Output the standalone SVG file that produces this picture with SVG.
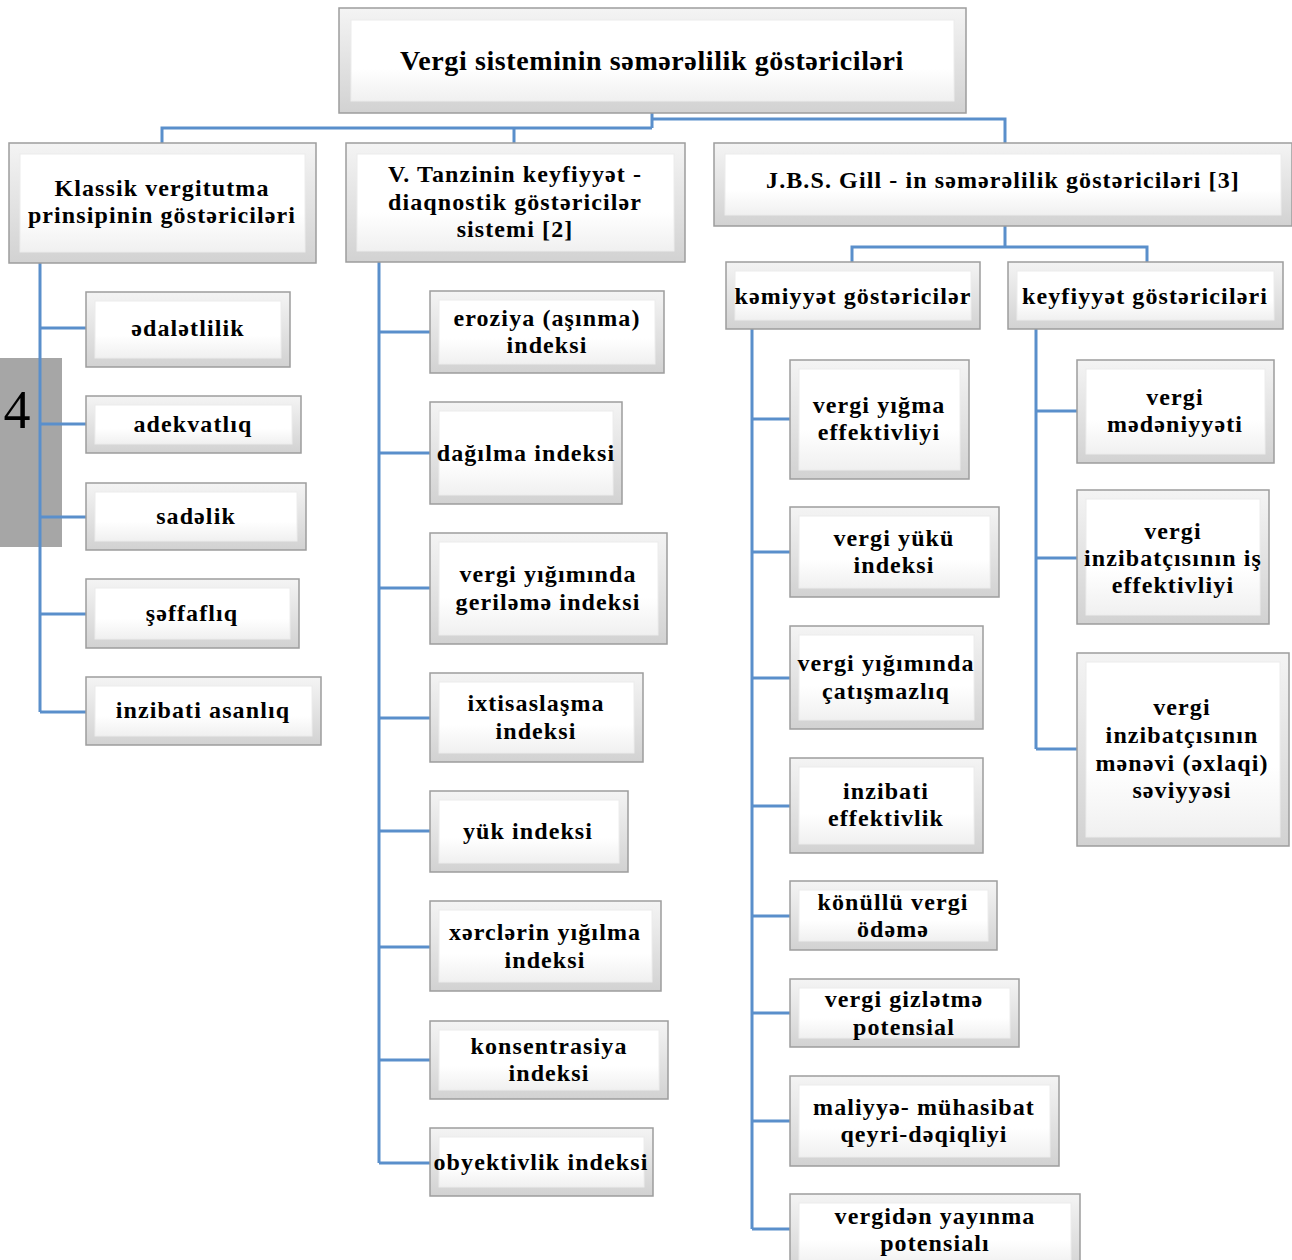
<svg xmlns="http://www.w3.org/2000/svg" width="1292" height="1260" viewBox="0 0 1292 1260">
<defs>
<linearGradient id="bev" x1="0" y1="0" x2="0" y2="1">
<stop offset="0" stop-color="#f4f4f4"/>
<stop offset="1" stop-color="#d2d2d2"/>
</linearGradient>
<linearGradient id="face" x1="0" y1="0" x2="0" y2="1">
<stop offset="0" stop-color="#ffffff"/>
<stop offset="0.6" stop-color="#ffffff"/>
<stop offset="1" stop-color="#f0f0f0"/>
</linearGradient>
</defs>
<style>
.frame{fill:url(#bev);stroke:#9d9d9d;stroke-width:1.5}
.face{fill:url(#face);stroke:#ececec;stroke-width:1}
.t{font-family:"Liberation Serif","Times New Roman",serif;font-weight:bold;font-size:24px;letter-spacing:1.1px;fill:#000;text-anchor:middle}
.big{font-size:28px;letter-spacing:0.6px}
.conn{fill:none;stroke:#5a8fcb;stroke-width:3}
</style>
<rect x="0" y="358" width="62" height="189" fill="#a6a6a6"/>
<text x="17" y="428" font-family="Liberation Serif, serif" font-size="54" text-anchor="middle" fill="#000">4</text>
<g id="connectors">
<path class="conn" d="M652,113 V128 M162,143 V128 H652 M514,128 V143 M652,119 H1005 V143"/>
<path class="conn" d="M40,263 V712 M40,328 H86 M40,424 H86 M40,517 H86 M40,614 H86 M40,712 H86"/>
<path class="conn" d="M379,262 V1163 M379,332 H430 M379,453 H430 M379,588 H430 M379,718 H430 M379,831 H430 M379,947 H430 M379,1060 H430 M379,1163 H430"/>
<path class="conn" d="M1005,226 V247 M852,262 V247 H1147 V262"/>
<path class="conn" d="M752,329 V1229 M752,419 H790 M752,552 H790 M752,678 H790 M752,806 H790 M752,916 H790 M752,1013 H790 M752,1121 H790 M752,1229 H790"/>
<path class="conn" d="M1036,329 V749 M1036,411 H1077 M1036,558 H1077 M1036,749 H1077"/>
</g>
<g id="root"><rect class="frame" x="339" y="8" width="627" height="105"/><rect class="face" x="351" y="20" width="603" height="81"/><text class="t big" x="652" y="70">Vergi sisteminin səmərəlilik göstəriciləri</text></g>
<g id="klassik"><rect class="frame" x="9" y="143" width="307" height="120"/><rect class="face" x="20" y="154" width="285" height="98"/><text class="t" x="162" y="196">Klassik vergitutma</text><text class="t" x="162" y="223">prinsipinin göstəriciləri</text></g>
<g id="tanzin"><rect class="frame" x="346" y="143" width="339" height="119"/><rect class="face" x="357" y="154" width="317" height="97"/><text class="t" x="515" y="182">V. Tanzinin keyfiyyət -</text><text class="t" x="515" y="210">diaqnostik göstəricilər</text><text class="t" x="515" y="237">sistemi [2]</text></g>
<g id="gill"><rect class="frame" x="714" y="143" width="578" height="83"/><rect class="face" x="725" y="154" width="556" height="61"/><text class="t" x="1003" y="188">J.B.S. Gill - in səmərəlilik göstəriciləri [3]</text></g>
<g id="edalet"><rect class="frame" x="86" y="292" width="204" height="75"/><rect class="face" x="95" y="301" width="186" height="57"/><text class="t" x="188" y="336">ədalətlilik</text></g>
<g id="adekvat"><rect class="frame" x="86" y="396" width="215" height="57"/><rect class="face" x="95" y="405" width="197" height="39"/><text class="t" x="193" y="432">adekvatlıq</text></g>
<g id="sadelik"><rect class="frame" x="86" y="483" width="220" height="67"/><rect class="face" x="95" y="492" width="202" height="49"/><text class="t" x="196" y="524">sadəlik</text></g>
<g id="seffaf"><rect class="frame" x="86" y="579" width="213" height="69"/><rect class="face" x="95" y="588" width="195" height="51"/><text class="t" x="192" y="621">şəffaflıq</text></g>
<g id="asanliq"><rect class="frame" x="86" y="677" width="235" height="68"/><rect class="face" x="95" y="686" width="217" height="50"/><text class="t" x="203" y="718">inzibati asanlıq</text></g>
<g id="eroziya"><rect class="frame" x="430" y="291" width="234" height="82"/><rect class="face" x="439" y="300" width="216" height="64"/><text class="t" x="547" y="326">eroziya (aşınma)</text><text class="t" x="547" y="353">indeksi</text></g>
<g id="dagilma"><rect class="frame" x="430" y="402" width="192" height="102"/><rect class="face" x="439" y="411" width="174" height="84"/><text class="t" x="526" y="461">dağılma indeksi</text></g>
<g id="gerileme"><rect class="frame" x="430" y="533" width="237" height="111"/><rect class="face" x="439" y="542" width="219" height="93"/><text class="t" x="548" y="582">vergi yığımında</text><text class="t" x="548" y="610">geriləmə indeksi</text></g>
<g id="ixtisas"><rect class="frame" x="430" y="673" width="213" height="89"/><rect class="face" x="439" y="682" width="195" height="71"/><text class="t" x="536" y="711">ixtisaslaşma</text><text class="t" x="536" y="739">indeksi</text></g>
<g id="yuk"><rect class="frame" x="430" y="791" width="198" height="81"/><rect class="face" x="439" y="800" width="180" height="63"/><text class="t" x="528" y="839">yük indeksi</text></g>
<g id="xercler"><rect class="frame" x="430" y="901" width="231" height="90"/><rect class="face" x="439" y="910" width="213" height="72"/><text class="t" x="545" y="940">xərclərin yığılma</text><text class="t" x="545" y="968">indeksi</text></g>
<g id="konsentr"><rect class="frame" x="430" y="1021" width="238" height="78"/><rect class="face" x="439" y="1030" width="220" height="60"/><text class="t" x="549" y="1054">konsentrasiya</text><text class="t" x="549" y="1081">indeksi</text></g>
<g id="obyekt"><rect class="frame" x="430" y="1128" width="223" height="68"/><rect class="face" x="439" y="1137" width="205" height="50"/><text class="t" x="541" y="1170">obyektivlik indeksi</text></g>
<g id="kemiyyet"><rect class="frame" x="726" y="262" width="254" height="67"/><rect class="face" x="735" y="271" width="236" height="49"/><text class="t" x="853" y="304">kəmiyyət göstəricilər</text></g>
<g id="keyfiyyet"><rect class="frame" x="1008" y="262" width="275" height="67"/><rect class="face" x="1017" y="271" width="257" height="49"/><text class="t" x="1145" y="304">keyfiyyət göstəriciləri</text></g>
<g id="yigma"><rect class="frame" x="790" y="360" width="179" height="119"/><rect class="face" x="799" y="369" width="161" height="101"/><text class="t" x="879" y="413">vergi yığma</text><text class="t" x="879" y="440">effektivliyi</text></g>
<g id="yuku"><rect class="frame" x="790" y="507" width="209" height="90"/><rect class="face" x="799" y="516" width="191" height="72"/><text class="t" x="894" y="546">vergi yükü</text><text class="t" x="894" y="573">indeksi</text></g>
<g id="catisma"><rect class="frame" x="790" y="626" width="193" height="103"/><rect class="face" x="799" y="635" width="175" height="85"/><text class="t" x="886" y="671">vergi yığımında</text><text class="t" x="886" y="699">çatışmazlıq</text></g>
<g id="inzeff"><rect class="frame" x="790" y="758" width="193" height="95"/><rect class="face" x="799" y="767" width="175" height="77"/><text class="t" x="886" y="799">inzibati</text><text class="t" x="886" y="826">effektivlik</text></g>
<g id="konullu"><rect class="frame" x="790" y="881" width="207" height="69"/><rect class="face" x="799" y="890" width="189" height="51"/><text class="t" x="893" y="910">könüllü vergi</text><text class="t" x="893" y="937">ödəmə</text></g>
<g id="gizletme"><rect class="frame" x="790" y="979" width="229" height="68"/><rect class="face" x="799" y="988" width="211" height="50"/><text class="t" x="904" y="1007">vergi gizlətmə</text><text class="t" x="904" y="1035">potensial</text></g>
<g id="maliyye"><rect class="frame" x="790" y="1076" width="269" height="90"/><rect class="face" x="799" y="1085" width="251" height="72"/><text class="t" x="924" y="1115">maliyyə- mühasibat</text><text class="t" x="924" y="1142">qeyri-dəqiqliyi</text></g>
<g id="yayinma"><rect class="frame" x="790" y="1194" width="290" height="80"/><rect class="face" x="799" y="1203" width="272" height="62"/><text class="t" x="935" y="1224">vergidən yayınma</text><text class="t" x="935" y="1251">potensialı</text></g>
<g id="medeniyyet"><rect class="frame" x="1077" y="360" width="197" height="103"/><rect class="face" x="1086" y="369" width="179" height="85"/><text class="t" x="1175" y="405">vergi</text><text class="t" x="1175" y="432">mədəniyyəti</text></g>
<g id="iseff"><rect class="frame" x="1077" y="490" width="192" height="134"/><rect class="face" x="1086" y="499" width="174" height="116"/><text class="t" x="1173" y="539">vergi</text><text class="t" x="1173" y="566">inzibatçısının iş</text><text class="t" x="1173" y="593">effektivliyi</text></g>
<g id="menevi"><rect class="frame" x="1077" y="653" width="212" height="193"/><rect class="face" x="1086" y="662" width="194" height="175"/><text class="t" x="1182" y="715">vergi</text><text class="t" x="1182" y="743">inzibatçısının</text><text class="t" x="1182" y="771">mənəvi (əxlaqi)</text><text class="t" x="1182" y="798">səviyyəsi</text></g>
</svg>
